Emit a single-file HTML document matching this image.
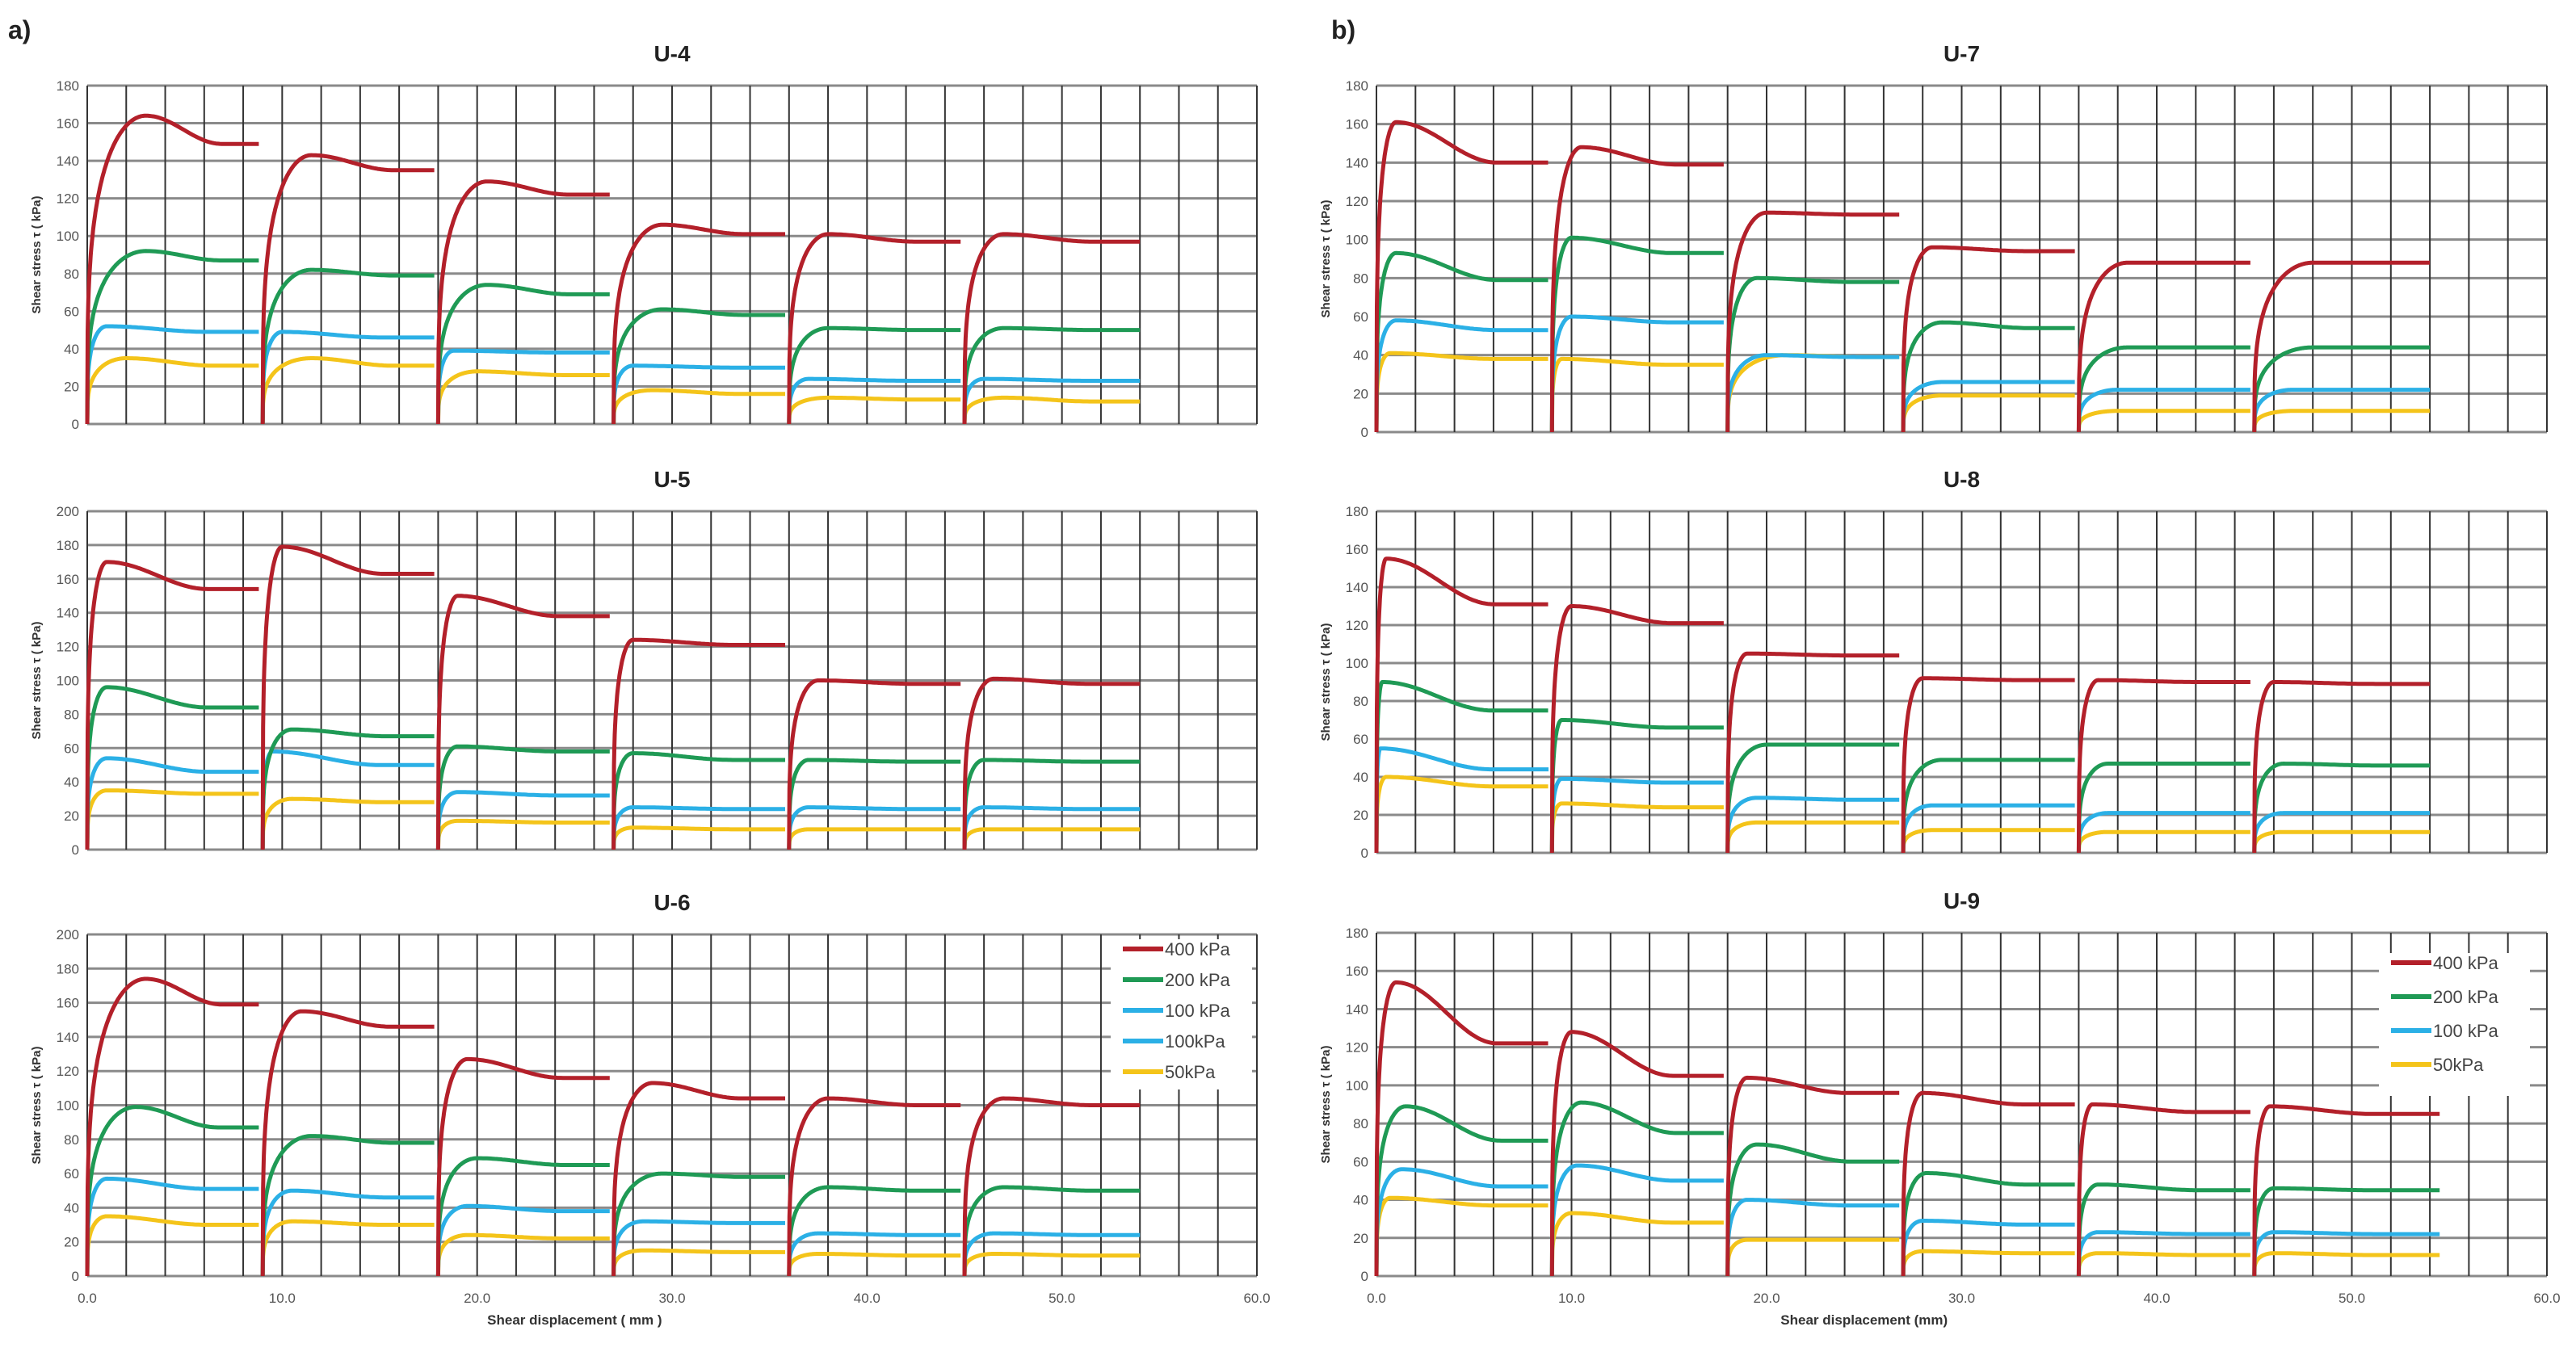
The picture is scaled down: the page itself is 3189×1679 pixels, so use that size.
<!DOCTYPE html>
<html><head><meta charset="utf-8">
<style>
html,body{margin:0;padding:0;background:#fff;}
svg{display:block;font-family:"Liberation Sans",sans-serif;}
</style></head>
<body>
<svg id="fig" width="3189" height="1679" viewBox="0 0 3189 1679" xmlns="http://www.w3.org/2000/svg">
<text x="10" y="48" font-size="32" font-weight="bold" fill="#222">a)</text>
<text x="1648" y="48" font-size="32" font-weight="bold" fill="#222">b)</text>
</svg>
<script>
// Stage starts (mm)
const stageStarts = [0, 9, 18, 27, 36, 45];
const seriesNames = ["400 kPa", "200 kPa", "100 kPa", "50kPa"];
const seriesColors = ["#b3202a", "#1f9a55", "#2bb0e6", "#f4c41a"];

// U-4
const u4Peak = [[164,143,129,106,101,101],[92,82,74,61,51,51],[52,49,39,31,24,24],[35,35,28,18,14,14]];
const u4PeakX = [[3,2.5,2.5,2.5,2,2],[3,2.5,2.5,2.5,2,2],[1,1,0.8,1,1,1],[2,2.5,2,2,2,2]];
const u4Resid = [[149,135,122,101,97,97],[87,79,69,58,50,50],[49,46,38,30,23,23],[31,31,26,16,13,12]];
// U-5
const u5Peak = [[170,179,150,124,100,101],[96,71,61,57,53,53],[54,58,34,25,25,25],[35,30,17,13,12,12]];
const u5PeakX = [[1,1,1,1,1.5,1.5],[1,1.5,1,1,1,1],[1,0.5,1,1,1,1],[1,1.5,1,1,1,1]];
const u5Resid = [[154,163,138,121,98,98],[84,67,58,53,52,52],[46,50,32,24,24,24],[33,28,16,12,12,12]];
// U-6
const u6Peak = [[174,155,127,113,104,104],[99,82,69,60,52,52],[57,50,41,32,25,25],[35,32,24,15,13,13]];
const u6PeakX = [[3,2,1.5,2,2,2],[2.5,2.5,2,2.5,2,2],[1,1.5,1.5,1.5,1.5,1.5],[1,1.5,1.5,1.5,1.5,1.5]];
const u6Resid = [[159,146,116,104,100,100],[87,78,65,58,50,50],[51,46,38,31,24,24],[30,30,22,14,12,12]];
// U-7
const u7Peak = [[161,148,114,96,88,88],[93,101,80,57,44,44],[58,60,40,26,22,22],[41,38,40,19,11,11]];
const u7PeakX = [[1,1.5,2,1.5,2.5,3],[1,1,1.5,2,2.5,3],[1,1,2,2,2,2],[0.7,0.5,3,2,2,2]];
const u7Resid = [[140,139,113,94,88,88],[79,93,78,54,44,44],[53,57,39,26,22,22],[38,35,39,19,11,11]];
// U-8
const u8Peak = [[155,130,105,92,91,90],[90,70,57,49,47,47],[55,39,29,25,21,21],[40,26,16,12,11,11]];
const u8PeakX = [[0.5,1,1,1,1,1],[0.3,0.5,2,2,1.5,1.5],[0.2,0.5,1.5,1.5,1.5,1.5],[0.5,0.5,1.5,1.5,1.5,1.5]];
const u8Resid = [[131,121,104,91,90,89],[75,66,57,49,47,46],[44,37,28,25,21,21],[35,24,16,12,11,11]];
// U-9
const u9Peak = [[154,128,104,96,90,89],[89,91,69,54,48,46],[56,58,40,29,23,23],[41,33,19,13,12,12]];
const u9PeakX = [[1,1,1,1,0.7,0.8],[1.5,1.5,1.5,1.2,1,1],[1.3,1.3,1,1,1,1],[0.7,1,1,1,1,1]];
const u9Resid = [[122,105,96,90,86,85],[71,75,60,48,45,45],[47,50,37,27,22,22],[37,28,19,12,11,11]];

const xTicks = ["0.0","10.0","20.0","30.0","40.0","50.0","60.0"];

const NS = "http://www.w3.org/2000/svg";
const svg = document.getElementById("fig");
function mk(tag, attrs, parent){const e=document.createElementNS(NS,tag);for(const k in attrs)e.setAttribute(k,attrs[k]);(parent||svg).appendChild(e);return e;}

const charts = [
 {title:"U-4",L:108,R:1556,T:106,B:525,ymax:180,peak:u4Peak,px:u4PeakX,res:u4Resid,xlab:false,legend:null,lastEnd:54},
 {title:"U-5",L:108,R:1556,T:633,B:1052,ymax:200,peak:u5Peak,px:u5PeakX,res:u5Resid,xlab:false,legend:null,lastEnd:54},
 {title:"U-6",L:108,R:1556,T:1157,B:1580,ymax:200,peak:u6Peak,px:u6PeakX,res:u6Resid,xlab:"Shear displacement ( mm )",legend:{x:1375,y:1163,w:175,h:186,names:["400 kPa","200 kPa","100 kPa","100kPa","50kPa"],cols:[0,1,2,2,3],dy:38},lastEnd:54},
 {title:"U-7",L:1704,R:3153,T:106,B:535,ymax:180,peak:u7Peak,px:u7PeakX,res:u7Resid,xlab:false,legend:null,lastEnd:54},
 {title:"U-8",L:1704,R:3153,T:633,B:1056,ymax:180,peak:u8Peak,px:u8PeakX,res:u8Resid,xlab:false,legend:null,lastEnd:54},
 {title:"U-9",L:1704,R:3153,T:1155,B:1580,ymax:180,peak:u9Peak,px:u9PeakX,res:u9Resid,xlab:"Shear displacement (mm)",legend:{x:2945,y:1180,w:187,h:177,names:["400 kPa","200 kPa","100 kPa","50kPa"],cols:[0,1,2,3],dy:42},lastEnd:54.5}
];

charts.forEach((c,ci)=>{
  const g = mk("g",{});
  
  
  const xs = v => c.L + (v/60)*(c.R-c.L);
  const ys = v => c.B - (v/c.ymax)*(c.B-c.T);
  const t = mk("text",{x:(c.L+c.R)/2,y:c.T-30,"font-size":28,"font-weight":"bold","text-anchor":"middle",fill:"#222"},g);
  t.textContent=c.title;
  
  
  for(let v=0; v<=c.ymax; v+=20){
    const l=mk("line",{x1:c.L,x2:c.R,y1:ys(v),y2:ys(v),stroke:"#8a8a8a","stroke-width":3},g);
    
    
    const tl=mk("text",{x:c.L-10,y:ys(v)+6,"font-size":17,"text-anchor":"end",fill:"#555"},g);
    tl.textContent=v;
    
    
  }
  for(let v=0; v<=60; v+=2){
    const l=mk("line",{x1:xs(v),x2:xs(v),y1:c.T,y2:c.B,stroke:"#333","stroke-width":2},g);
    
    
  }
  const yt=mk("text",{transform:`translate(${c.L-58},${(c.T+c.B)/2}) rotate(-90)`,"font-size":15,"font-weight":"bold","text-anchor":"middle",fill:"#333"},g);
  yt.textContent="Shear stress  τ ( kPa)";
  
  
  if(c.xlab){
    xTicks.forEach((lab,i)=>{
      const tx=mk("text",{x:xs(i*10),y:c.B+33,"font-size":17,"text-anchor":"middle",fill:"#555"},g);
      tx.textContent=lab;
      
      
    });
    const xt=mk("text",{x:xs(25),y:c.B+60,"font-size":17,"font-weight":"bold","text-anchor":"middle",fill:"#333"},g);
    xt.textContent=c.xlab;
    
    
  }
  for(let s=3; s>=0; s--){
    for(let k=0;k<6;k++){
      const st=stageStarts[k], end=(k==5?c.lastEnd:st+8.85)-st;
      const pk=c.peak[s][k], pxv=c.px[s][k], rs=c.res[s][k];
      const Ld=Math.max(1,(9-pxv)*0.65);
      let d="M"+xs(st).toFixed(1)+","+ys(0).toFixed(1);
      for(let dx=0.02; dx<=end+1e-6; dx+=(dx<pxv?0.02:0.1)){
        let y;
        if(dx<=pxv){const tt=dx/pxv; y=pk*Math.pow(1-(1-tt)*(1-tt),0.28);}
        else{const u=Math.min(1,(dx-pxv)/Ld); y=rs+(pk-rs)*(1+Math.cos(Math.PI*u))/2;}
        d+=" L"+xs(st+dx).toFixed(1)+","+ys(y).toFixed(1);
      }
      const p=mk("path",{d:d,fill:"none",stroke:seriesColors[s],"stroke-width":5,"stroke-linejoin":"round"},g);
      
      
    }
  }
  if(c.legend){
    const lg=c.legend;
    const lgG=mk("g",{},g);
    
    
    mk("rect",{x:lg.x,y:lg.y,width:lg.w,height:lg.h,fill:"#fff"},lgG);
    lg.names.forEach((n,i)=>{
      const yy=lg.y+12+i*lg.dy;
      const ln=mk("line",{x1:lg.x+15,x2:lg.x+65,y1:yy,y2:yy,stroke:seriesColors[lg.cols[i]],"stroke-width":6},lgG);
      
      
      const tx=mk("text",{x:lg.x+67,y:yy+8,"font-size":22,fill:"#444"},lgG);
      tx.textContent=n;
      
      
    });
  }
});
</script>
</body></html>
